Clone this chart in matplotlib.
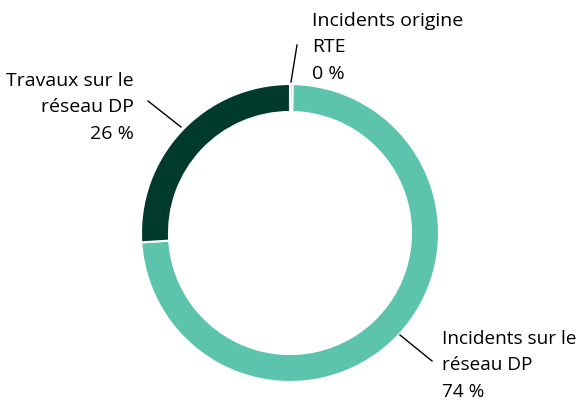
import matplotlib.pyplot as plt

# slices, clockwise from the top
labels = ['Incidents origine\nRTE\n0 %', 'Incidents sur le\nréseau DP\n74 %', 'Travaux sur le\nréseau DP\n26 %']
values = [0.3, 73.7, 26.0]
colors = ['#5cc4ad', '#5cc4ad', '#003a2c']

plt.rcParams['font.family'] = ['Open Sans', 'DejaVu Sans']

fig = plt.figure(figsize=(5.81, 4.0), dpi=100)
ax = fig.add_axes([0, 0, 1, 1])

cx, cy, r = 290, 167, 149
wedges, _ = ax.pie(values, colors=colors, startangle=90, counterclock=False,
                   radius=r, center=(cx, cy),
                   wedgeprops=dict(width=28, edgecolor='white', linewidth=1.5))

ax.set_xlim(0, 581)
ax.set_ylim(0, 400)
ax.set_aspect('equal')
ax.axis('off')

# leader lines and labels (y measured from bottom)
ax.plot([291, 297], [318, 355], color='black', lw=1)
ax.text(312, 388, labels[0], ha='left', va='top', fontsize=14, linespacing=1.6)

ax.plot([181, 148], [273, 299], color='black', lw=1)
ax.text(134, 328, labels[2], ha='right', va='top', fontsize=14, linespacing=1.6)

ax.plot([400, 432], [65, 39], color='black', lw=1)
ax.text(442, 70, labels[1], ha='left', va='top', fontsize=13.7, linespacing=1.6)

fig.savefig('out.png', dpi=100)
